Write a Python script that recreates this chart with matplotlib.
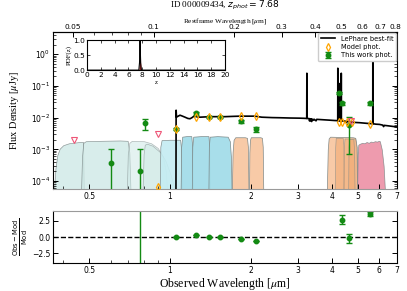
"""SED fit figure: LePhare best-fit model, photometry, filter curves and residuals."""
import matplotlib
matplotlib.use("Agg")
import matplotlib.pyplot as plt
from matplotlib.ticker import FixedLocator, NullFormatter

ZPHOT = 7.68
OBJ_ID = "000009434"

# best-fit SED, observed wavelength [um] and flux [uJy]
sed_wl = [0.36, 1.050, 1.0535, 1.057, 1.070, 1.089, 1.110, 1.137, 1.165, 1.187, 1.208, 1.228,
          1.260, 1.293, 1.350, 1.408, 1.500, 1.601, 1.700, 1.821, 1.950, 2.070, 2.197, 2.400,
          2.560, 2.800, 3.040, 3.150, 3.231, 3.235, 3.239, 3.300, 3.310, 3.320, 3.340, 3.350,
          3.370, 3.380, 3.420, 3.440, 3.500, 3.520, 3.600, 3.930, 4.100, 4.216, 4.219, 4.222,
          4.301, 4.304, 4.307, 4.343, 4.346, 4.349, 4.500, 4.550, 4.570, 4.670, 4.700, 4.720,
          4.800, 5.090, 5.400, 5.694, 5.697, 5.700, 5.850, 6.030, 6.200, 6.250, 6.280, 6.500,
          6.970, 7.300]
sed_f = [1e-8, 1e-8, 0.0171, 0.0103, 0.0110, 0.0119, 0.0112, 0.0103, 0.0094, 0.0092, 0.0100, 0.0111,
         0.0106, 0.0103, 0.0105, 0.0107, 0.0107, 0.0107, 0.0109, 0.0111, 0.0111, 0.0111, 0.0103, 0.0100,
         0.0099, 0.0097, 0.0096, 0.0095, 0.0094, 0.25, 0.0094, 0.0093, 0.0078, 0.0092, 0.0080, 0.0091,
         0.0075, 0.0090, 0.0083, 0.0089, 0.0079, 0.0088, 0.0087, 0.0083, 0.0081, 0.0080, 0.36, 0.0080,
         0.0079, 0.12, 0.0079, 0.0079, 0.25, 0.0079, 0.0077, 0.0070, 0.0076, 0.0075, 0.0066, 0.0074,
         0.0071, 0.0069, 0.0066, 0.0064, 1.0, 0.0064, 0.0062, 0.0061, 0.0058, 0.0052, 0.0057, 0.0055,
         0.0051, 0.0050]

# this work photometry
obs_wl = [0.600, 0.774, 0.807, 1.055, 1.249, 1.396, 1.534, 1.840, 2.090, 4.250, 4.370, 4.630, 5.580]
obs_f = [3.6e-4, 2.0e-4, 6.6e-3, 4.4e-3, 1.40e-2, 1.05e-2, 1.05e-2, 7.7e-3, 4.3e-3, 6.0e-2, 2.8e-2, 5.8e-3, 2.8e-2]
obs_elo = [3.59e-4, 1.99e-4, 2.6e-3, 3e-4, 1.5e-3, 1e-3, 1e-3, 8e-4, 8e-4, 5e-3, 3e-3, 5.07e-3, 3e-3]
obs_ehi = [6.4e-4, 8.0e-4, 2.3e-3, 3e-4, 1.5e-3, 1e-3, 1e-3, 8e-4, 9e-4, 5e-3, 3e-3, 4.8e-3, 3e-3]

# model photometry
mod_wl = [0.905, 1.055, 1.249, 1.396, 1.534, 1.840, 2.090, 4.250, 4.370, 4.580, 4.770, 5.580]
mod_f = [6.3e-5, 4.4e-3, 1.03e-2, 1.05e-2, 1.05e-2, 1.1e-2, 1.1e-2, 7.3e-3, 7.3e-3, 7.1e-3, 7.1e-3, 6.2e-3]

# upper limits
ul_wl = [0.437, 0.905, 4.73]
ul_f = [1.9e-3, 3.0e-3, 7.6e-3]

# residuals (obs - mod) / mod
res_wl = [0.774, 1.055, 1.249, 1.396, 1.534, 1.840, 2.090, 4.370, 4.630, 5.580]
res_val = [8.0, 0.0, 0.27, 0.0, 0.0, -0.3, -0.6, 2.65, -0.2, 3.55]
res_err = [20.0, 0.03, 0.03, 0.03, 0.03, 0.03, 0.03, 0.7, 0.7, 0.25]

# photo-z PDF
pdf_z = [0.0, 7.50, 7.60, 7.68, 7.76, 7.86, 20.0]
pdf_p = [0.0, 0.0, 0.25, 1.0, 0.25, 0.0, 0.0]

# filter transmission curves, scaled to flux units
filters = [
    ([0.370, 0.374, 0.380, 0.388, 0.400, 0.420, 0.460, 0.474, 0.477],
     [6e-5, 2.5e-4, 6.5e-4, 1.05e-3, 1.35e-3, 1.55e-3, 1.7e-3, 1.7e-3, 5e-5]),
    ([0.466, 0.470, 0.475, 0.485, 0.550, 0.650, 0.695, 0.705, 0.712],
     [5e-5, 6e-4, 1.6e-3, 1.8e-3, 1.85e-3, 1.9e-3, 1.85e-3, 8e-4, 5e-5]),
    ([0.690, 0.696, 0.705, 0.720, 0.800, 0.850, 0.900, 0.940, 0.965, 0.975],
     [5e-5, 7e-4, 1.6e-3, 1.85e-3, 1.8e-3, 1.55e-3, 1.1e-3, 6e-4, 2e-4, 5e-5]),
    ([0.790, 0.797, 0.805, 0.820, 0.860, 0.920, 0.960, 1.000, 1.030, 1.045],
     [5e-5, 7e-4, 1.4e-3, 1.5e-3, 1.3e-3, 8e-4, 4.5e-4, 1.8e-4, 8e-5, 5e-5]),
    ([0.915, 0.920, 0.930, 1.000, 1.090, 1.100, 1.105],
     [5e-5, 1.2e-3, 1.95e-3, 2.0e-3, 2.0e-3, 1e-3, 5e-5]),
    ([1.095, 1.100, 1.110, 1.150, 1.200, 1.210, 1.215],
     [5e-5, 1.2e-3, 2.5e-3, 2.6e-3, 2.6e-3, 1.2e-3, 5e-5]),
    ([1.205, 1.210, 1.220, 1.300, 1.390, 1.400, 1.405],
     [5e-5, 1.2e-3, 2.5e-3, 2.6e-3, 2.6e-3, 1.2e-3, 5e-5]),
    ([1.390, 1.395, 1.405, 1.500, 1.640, 1.670, 1.685, 1.695],
     [5e-5, 1.2e-3, 2.5e-3, 2.6e-3, 2.5e-3, 1.8e-3, 6e-4, 5e-5]),
    ([1.700, 1.710, 1.725, 1.750, 1.900, 1.935, 1.950, 1.960],
     [5e-5, 8e-4, 2.0e-3, 2.4e-3, 2.4e-3, 2.3e-3, 1.2e-3, 5e-5]),
    ([1.970, 1.975, 1.985, 2.000, 2.170, 2.200, 2.215, 2.225],
     [5e-5, 8e-4, 2.0e-3, 2.4e-3, 2.4e-3, 2.3e-3, 1.2e-3, 5e-5]),
    ([3.840, 3.870, 3.900, 3.950, 4.800, 4.900, 4.960, 4.990],
     [5e-5, 1e-3, 2.2e-3, 2.5e-3, 2.4e-3, 2.3e-3, 1.2e-3, 5e-5]),
    ([4.110, 4.125, 4.145, 4.400, 4.430, 4.450],
     [5e-5, 1.2e-3, 2.3e-3, 2.3e-3, 1.2e-3, 5e-5]),
    ([4.420, 4.440, 4.470, 4.900, 4.950, 4.975],
     [5e-5, 1.2e-3, 2.2e-3, 2.2e-3, 1.2e-3, 5e-5]),
    ([4.610, 4.625, 4.650, 4.820, 4.850, 4.870],
     [5e-5, 1.2e-3, 2.1e-3, 2.1e-3, 1.0e-3, 5e-5]),
    ([4.980, 5.000, 5.030, 5.100, 5.200, 5.300, 5.400, 5.500, 5.600, 5.700, 5.800, 5.900,
      6.000, 6.050, 6.150, 6.250, 6.320],
     [5e-5, 6e-4, 1.4e-3, 1.5e-3, 1.6e-3, 1.55e-3, 1.7e-3, 1.6e-3, 1.75e-3, 1.7e-3, 1.8e-3,
      1.75e-3, 1.85e-3, 1.8e-3, 1.0e-3, 3e-4, 5e-5]),
]
PALE, CYAN1, CYAN, ORL, ORM, PINK = "#cfe9e6", "#c4ecf2", "#a3dde9", "#f8c8a2", "#f2ab74", "#ec8aa0"
filter_colors = [PALE, PALE, PALE, PALE, CYAN1, CYAN, CYAN, CYAN, ORL, ORL, ORL, ORM, ORM, ORM, PINK]
filter_alpha = [0.8, 0.8, 0.55, 0.55, 0.9, 0.95, 0.95, 0.95, 0.95, 0.95, 0.95, 0.6, 0.55, 0.6, 0.85]

GREEN, ORANGE, RED = "#138a13", "#ffa500", "#ee5577"
SERIF = "Liberation Serif"

XT = [0.5, 1, 2, 3, 4, 5, 6, 7]
XT_LAB = ["0.5", "1", "2", "3", "4", "5", "6", "7"]
XT_MIN = [0.4, 0.6, 0.7, 0.8, 0.9]
TOP_T = [0.05, 0.1, 0.2, 0.3, 0.4, 0.5, 0.6, 0.7, 0.8]


def style_x(a):
    a.set_xscale("log")
    a.set_xlim(0.366, 7.0)
    a.xaxis.set_major_locator(FixedLocator(XT))
    a.set_xticklabels(XT_LAB)
    a.xaxis.set_minor_locator(FixedLocator(XT_MIN))
    a.xaxis.set_minor_formatter(NullFormatter())
    a.tick_params(which="both", direction="in", labelsize=5.5, pad=2, right=True)
    a.tick_params(which="major", length=3.5, width=0.7)
    a.tick_params(which="minor", length=2, width=0.5)


fig = plt.figure(figsize=(4.07, 2.91), dpi=100)
ax = fig.add_axes([0.130, 0.3505, 0.845, 0.5395])
axr = fig.add_axes([0.130, 0.0962, 0.845, 0.1787])

for (wl, fl), c, al in zip(filters, filter_colors, filter_alpha):
    ax.fill_between(wl, fl, 1e-7, facecolor=c, alpha=al, edgecolor="#7a8585", lw=0.5, zorder=1)

sed_line, = ax.plot(sed_wl, sed_f, color="black", lw=1.2, zorder=3, label="LePhare best-fit")
mod_pts, = ax.plot(mod_wl, mod_f, ls="none", marker="d", ms=4, mfc="none", mec=ORANGE, mew=0.9,
                   zorder=5, label="Model phot.")
obs_pts = ax.errorbar(obs_wl, obs_f, yerr=[obs_elo, obs_ehi], fmt="o", ms=3.2, color=GREEN,
                      ecolor=GREEN, elinewidth=1, capsize=2.5, capthick=1, zorder=4,
                      label="This work phot.")
ax.plot(ul_wl, ul_f, ls="none", marker="v", ms=4, mfc="none", mec=RED, mew=0.8, zorder=5)

ax.set_yscale("log")
ax.set_ylim(5.6e-5, 5.0)
style_x(ax)
ax.tick_params(axis="y", which="both", direction="in", right=True, labelsize=5.5, pad=2)
ax.spines["bottom"].set_color("#9a9a9a")
ax.set_ylabel(r"Flux Density [$\mu$Jy]", family=SERIF, fontsize=7.5, math_fontfamily="stix", labelpad=7)

sec = ax.secondary_xaxis("top", functions=(lambda x: x / (1 + ZPHOT), lambda x: x * (1 + ZPHOT)))
sec.set_xticks(TOP_T, [f"{t:g}" for t in TOP_T])
sec.xaxis.set_minor_formatter(NullFormatter())
sec.tick_params(which="both", direction="in", labelsize=5.3, pad=1.2)
sec.tick_params(which="major", length=3.5, width=0.7)
sec.tick_params(which="minor", length=2, width=0.5)
sec.set_xlabel(r"Restframe Wavelength [$\mu$m]", family=SERIF, fontsize=5.2, math_fontfamily="stix",
               labelpad=1.5)
fig.text(0.5525, 0.981, rf"ID {OBJ_ID}, $z_{{phot}} = {ZPHOT}$", family=SERIF, fontsize=6.6,
         math_fontfamily="dejavusans", ha="center", va="center")

leg = ax.legend([sed_line, mod_pts, obs_pts], ["LePhare best-fit", "Model phot.", "This work phot."],
                loc="upper right", fontsize=4.8, framealpha=1, edgecolor="#cccccc", borderpad=0.4,
                handlelength=2.2, labelspacing=0.35, borderaxespad=0.15)
leg.set_zorder(10)

# photo-z PDF inset
axin = fig.add_axes([0.214, 0.759, 0.339, 0.103])
axin.fill_between(pdf_z, pdf_p, 0, color="#b22222", lw=0)
axin.plot(pdf_z, pdf_p, color="black", lw=0.8)
axin.set_xlim(0, 20)
axin.set_ylim(0, 1)
axin.set_xticks(range(0, 21, 2))
axin.set_yticks([0.0, 0.5, 1.0])
axin.tick_params(direction="in", top=True, right=True, labelsize=5.3, pad=1.5, length=2, width=0.5)
axin.set_xlabel("z", family=SERIF, fontsize=5, labelpad=1)
axin.set_ylabel("PDF(z)", family=SERIF, fontsize=5, labelpad=1)

# residuals
axr.errorbar(res_wl, res_val, yerr=res_err, fmt="o", ms=3.2, color=GREEN, ecolor=GREEN,
             elinewidth=1, capsize=2, capthick=1)
axr.axhline(0, color="black", ls="--", lw=1, zorder=0)
axr.set_ylim(-4, 4)
axr.set_yticks([-2.5, 0.0, 2.5])
style_x(axr)
axr.tick_params(axis="y", direction="in", right=True, labelsize=5.5, pad=2)
axr.spines["top"].set_color("#9a9a9a")
axr.set_ylabel(r"$\frac{\rm Obs-Mod}{\rm Mod}$", fontsize=7, labelpad=1)
axr.set_xlabel(r"Observed Wavelength [$\mu$m]", family=SERIF, fontsize=8.5, math_fontfamily="stix",
               labelpad=1)

fig.savefig("out.png", dpi=100)
